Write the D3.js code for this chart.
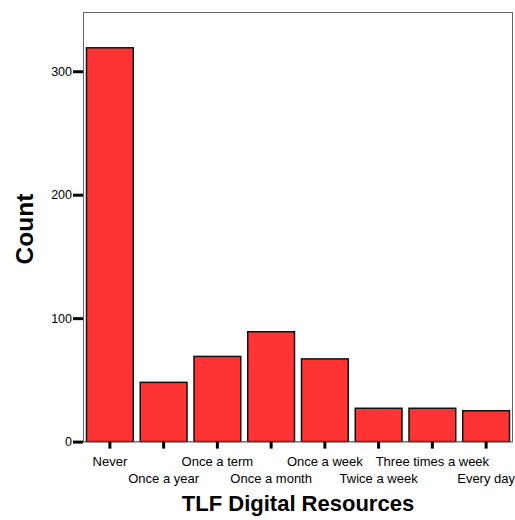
<!DOCTYPE html>
<html><head><meta charset="utf-8">
<script src="https://cdn.jsdelivr.net/npm/d3@7"></script>
<style>body{margin:0;background:#fff;} svg{display:block;font-family:"Liberation Sans",Arial,sans-serif;}</style>
</head><body>
<script>
const categories = ["Never","Once a year","Once a term","Once a month","Once a week","Twice a week","Three times a week","Every day"];
const counts = [319, 48, 69, 89, 67, 27, 27, 25];
const yTicks = [0, 100, 200, 300];

const W = 515, H = 520;
const m = {left: 83, top: 12, right: 2, bottom: 79};
const svg = d3.select("body").append("svg").attr("width", W).attr("height", H);

const x = d3.scaleBand().domain(categories).range([m.left, W - m.right]).paddingInner(0.13).paddingOuter(0.065);
const y = d3.scaleLinear().domain([0, 348]).range([H - m.bottom + 0.6, m.top]);

// frame
svg.append("rect").attr("x", m.left + 0.5).attr("y", m.top + 0.5)
  .attr("width", W - m.right - m.left - 1).attr("height", H - m.bottom - m.top)
  .attr("fill", "none").attr("stroke", "#666").attr("stroke-width", 1);

// bars
svg.append("g").selectAll("rect").data(categories).join("rect")
  .attr("x", d => x(d)).attr("width", x.bandwidth())
  .attr("y", (d, i) => y(counts[i])).attr("height", (d, i) => y(0) - y(counts[i]))
  .attr("fill", "#ff3333").attr("stroke", "#111").attr("stroke-width", 1.5);

// y axis
const ya = svg.append("g").attr("transform", `translate(${m.left},0)`)
  .call(d3.axisLeft(y).tickValues(yTicks).tickSize(10).tickPadding(1).tickFormat(d3.format("d")));
ya.select(".domain").remove();
ya.selectAll(".tick line").attr("stroke", "#000").attr("stroke-width", 3);
ya.selectAll(".tick text").attr("font-size", 12.5).attr("fill", "#000").attr("font-family", "Liberation Sans, Arial, sans-serif");

// x axis
const xa = svg.append("g").attr("transform", `translate(0,${y(0)})`)
  .call(d3.axisBottom(x).tickSize(7).tickPadding(8));
xa.select(".domain").attr("stroke", "#888").attr("d", `M${m.left},0.5H${W - m.right}`);
xa.selectAll(".tick line").attr("stroke", "#000").attr("stroke-width", 3);
xa.selectAll(".tick text").attr("font-size", 13).attr("fill", "#000")
  .attr("font-family", "Liberation Sans, Arial, sans-serif")
  .attr("dy", (d, i) => i % 2 === 0 ? "0.71em" : "2.03em");

// titles
svg.append("text").attr("x", 298).attr("y", 511).attr("text-anchor", "middle")
  .attr("font-size", 22).attr("font-weight", "bold").text("TLF Digital Resources");
svg.append("text").attr("transform", "translate(33,229) rotate(-90)").attr("text-anchor", "middle")
  .attr("font-size", 24.5).attr("font-weight", "bold").text("Count");
</script>
</body></html>
